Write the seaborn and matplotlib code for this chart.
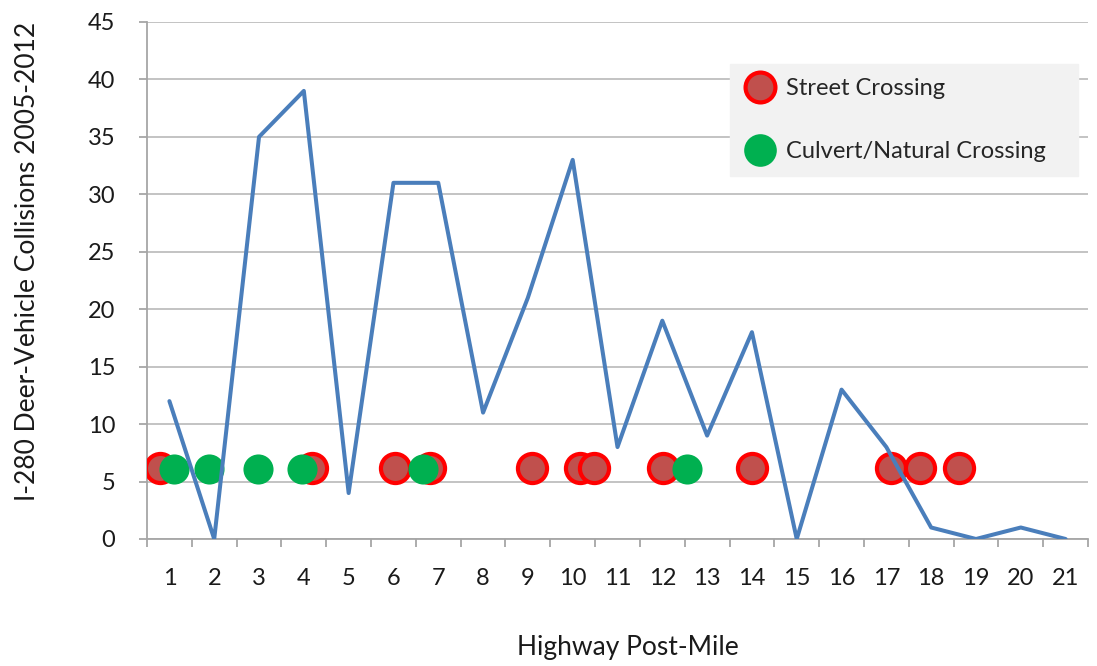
import matplotlib
matplotlib.use("Agg")
import matplotlib.pyplot as plt
import seaborn as sns
import pandas as pd
from matplotlib.lines import Line2D

# ---- data ----
post_miles = list(range(1, 22))
collisions = [12, 0, 35, 39, 4, 31, 31, 11, 21, 33, 8, 19, 9, 18, 0, 13, 8, 1, 0, 1, 0]

street_x = [0.79, 4.18, 6.04, 6.82, 9.10, 10.17, 10.48, 12.01, 14.00, 17.10, 17.74, 18.63]
street_y = [6.2] * len(street_x)
culvert_x = [1.10, 1.88, 2.97, 3.95, 6.67, 12.56]
culvert_y = [6.1] * len(culvert_x)

x_labels = [str(v) for v in post_miles]
y_ticks = [0, 5, 10, 15, 20, 25, 30, 35, 40, 45]

sns.set_theme(style="white")
plt.rcParams['font.family'] = ['Lato', 'DejaVu Sans']

fig = plt.figure(figsize=(10.97, 6.66), dpi=100)
ax = fig.add_axes([0.134, 0.1907, 0.8578, 0.7763])

df_line = pd.DataFrame({"mile": post_miles, "count": collisions})
df_street = pd.DataFrame({"x": street_x, "y": street_y})
df_culv = pd.DataFrame({"x": culvert_x, "y": culvert_y})

sns.scatterplot(data=df_street, x="x", y="y", ax=ax, s=440, color="#C0504D",
                edgecolor="#FF0000", linewidth=3, zorder=3, legend=False)
sns.scatterplot(data=df_culv, x="x", y="y", ax=ax, s=470, color="#00B050",
                edgecolor="#00B050", linewidth=0, zorder=3, legend=False)
sns.lineplot(data=df_line, x="mile", y="count", ax=ax, color="#4A7EBB",
             linewidth=2.9, zorder=4, legend=False)

ax.set_xlim(0.5, 21.5)
ax.set_ylim(0, 45)
ax.set_yticks(y_ticks)
ax.set_xticks(post_miles)
ax.set_xticklabels(x_labels)
ax.set_xticks([v + 0.5 for v in range(0, 22)], minor=True)

ax.yaxis.grid(True, color="#BEBEBE", linewidth=1.3)
ax.xaxis.grid(False)
ax.set_axisbelow(True)

for side in ["top", "right"]:
    ax.spines[side].set_visible(False)
for side in ["left", "bottom"]:
    ax.spines[side].set_color("#A6A6A6")
    ax.spines[side].set_linewidth(1.3)

ax.tick_params(axis="x", which="major", length=0, pad=21, labelsize=17, labelcolor="#1a1a1a")
ax.tick_params(axis="x", which="minor", length=6, width=1.3, color="#A6A6A6", bottom=True)
ax.tick_params(axis="y", which="major", length=6, width=1.3, color="#A6A6A6", left=True,
               pad=17, labelsize=17, labelcolor="#1a1a1a")

ax.set_xlabel("Highway Post-Mile", fontsize=19, color="#1a1a1a")
ax.set_ylabel("I-280 Deer-Vehicle Collisions 2005-2012", fontsize=19, color="#1a1a1a")
ax.xaxis.set_label_coords(0.511, -0.186)
ax.yaxis.set_label_coords(-0.114, 0.536)

handles = [
    Line2D([], [], linestyle="none", marker="o", markersize=21.5, markerfacecolor="#C0504D",
           markeredgecolor="#FF0000", markeredgewidth=3),
    Line2D([], [], linestyle="none", marker="o", markersize=23.5, markerfacecolor="#00B050",
           markeredgecolor="#00B050", markeredgewidth=0),
]
leg = ax.legend(handles, ["Street Crossing", "Culvert/Natural Crossing"],
                loc="upper left", bbox_to_anchor=(0.6196, 0.698, 0.3694, 0.221),
                mode="expand", fontsize=17,
                frameon=True, fancybox=False, framealpha=1, facecolor="#F2F2F2",
                edgecolor="#F2F2F2", borderpad=0.6, labelspacing=1.78,
                handletextpad=0.45, borderaxespad=0, handlelength=1.3)
leg.set_zorder(5)

fig.savefig("out.png", dpi=100)
